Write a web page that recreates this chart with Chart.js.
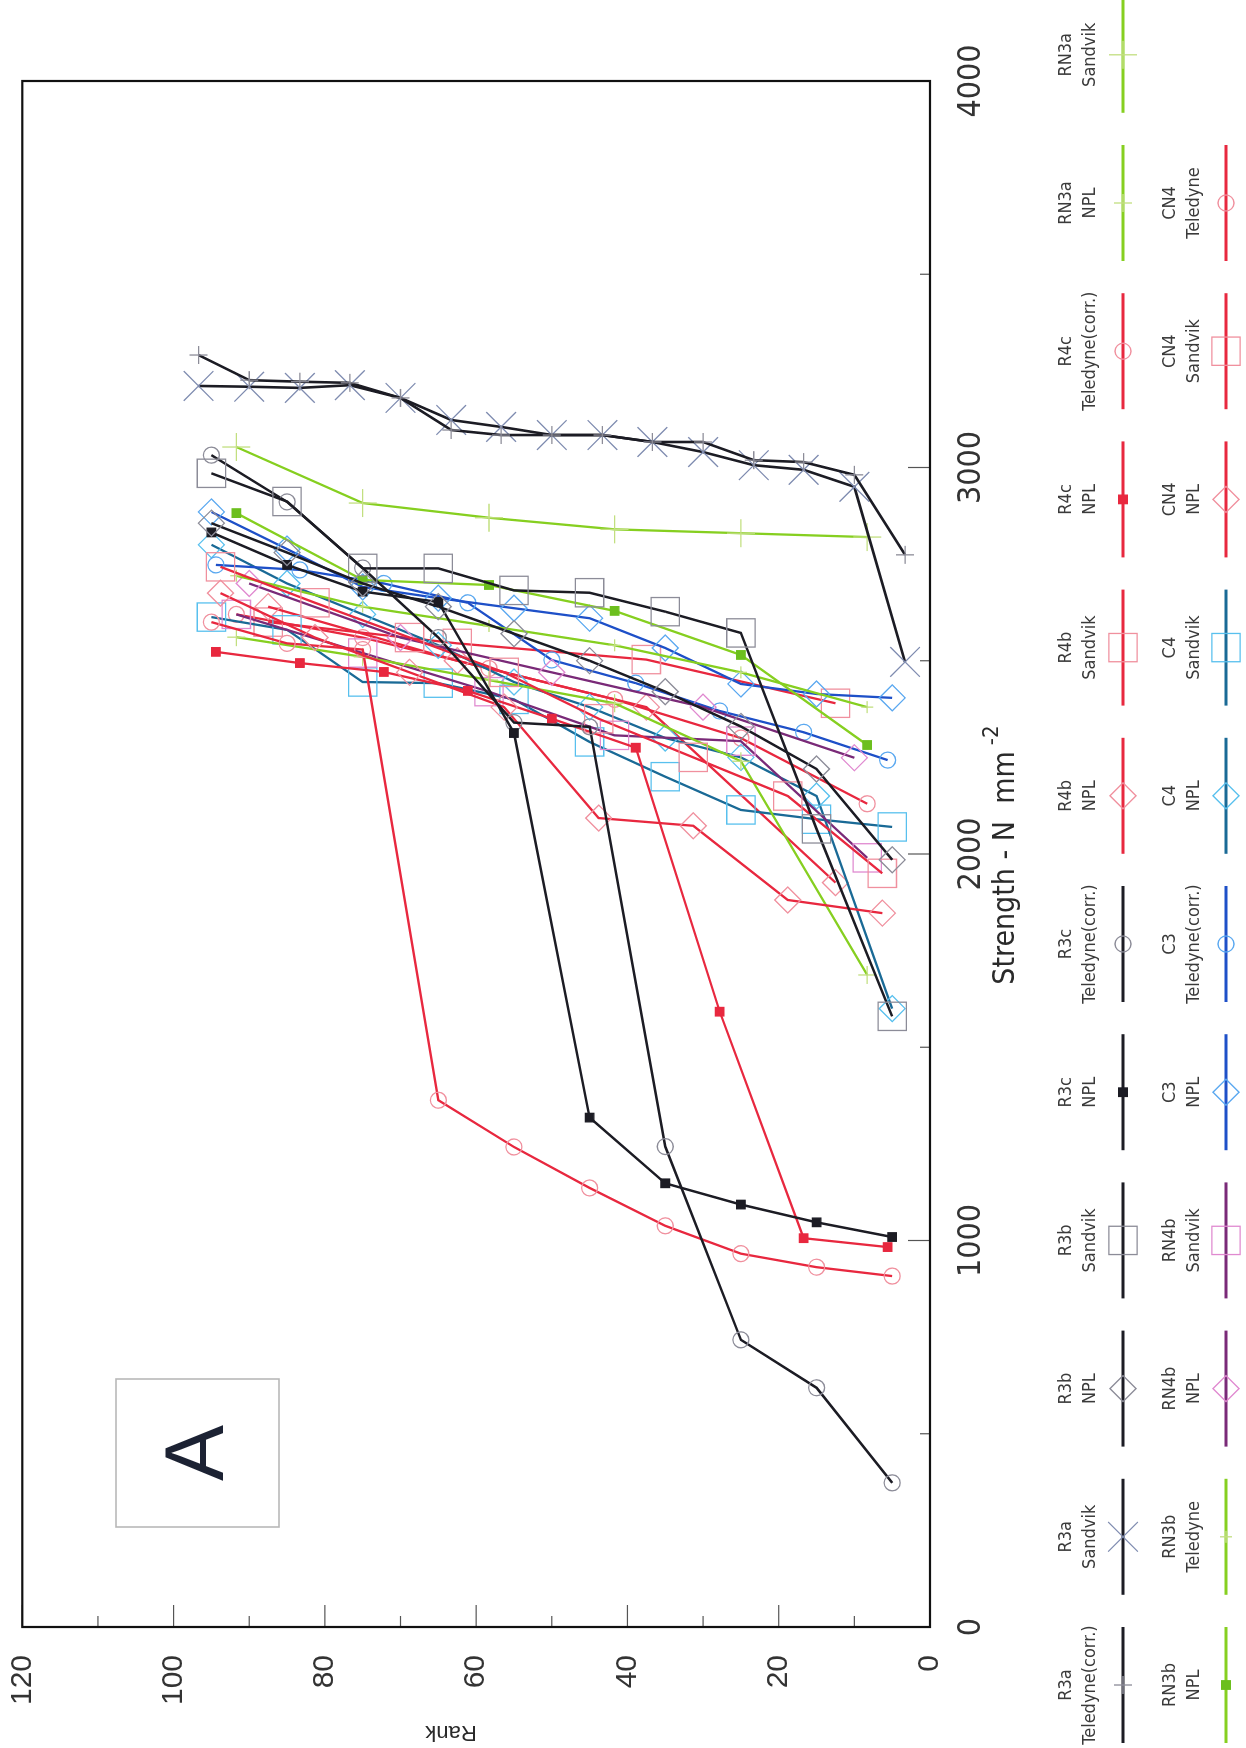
<!DOCTYPE html>
<html>
<head>
<meta charset="utf-8">
<script src="https://cdn.jsdelivr.net/npm/chart.js@4.4.0/dist/chart.umd.min.js"></script>
<style>
html, body { margin: 0; padding: 0; background: #fff; }
#wrap { position: relative; width: 1246px; height: 1748px; overflow: hidden; background: #fff; }
#c { position: absolute; left: 0; top: 0; transform-origin: 0 0; transform: translate(0, 1748px) rotate(-90deg); }
</style>
</head>
<body>
<div id="wrap"><canvas id="c" width="1748" height="1246" style="width:1748px;height:1246px"></canvas></div>
<script>
// median ranks used for the different sample sizes
var rank15 = [96.7, 90, 83.3, 76.7, 70, 63.3, 56.7, 50, 43.3, 36.7, 30, 23.3, 16.7, 10, 3.3];
var rank10 = [95, 85, 75, 65, 55, 45, 35, 25, 15, 5];
var rank9 = [94.4, 83.3, 72.2, 61.1, 50, 38.9, 27.8, 16.7, 5.6];
var rank8 = [93.8, 81.3, 68.8, 56.3, 43.8, 31.3, 18.8, 6.3];
var rank6 = [91.7, 75, 58.3, 41.7, 25, 8.3];
var rank5 = [90, 70, 50, 30, 10];
var rank4 = [87.5, 62.5, 37.5, 12.5];

// strengths, N mm-2
var r3aTeledyne = [3291, 3226, 3222, 3219, 3180, 3097, 3084, 3084, 3084, 3066, 3066, 3019, 3014, 2981, 2774];
var r3aSandvik = [3211, 3209, 3206, 3213, 3180, 3123, 3105, 3084, 3084, 3066, 3040, 3006, 2994, 2950, 2497];
var r3bNPL = [2856, 2780, 2700, 2640, 2570, 2500, 2420, 2330, 2220, 1985];
var r3bSandvik = [2985, 2912, 2739, 2739, 2682, 2676, 2627, 2572, 2065, 1580];
var r3cNPL = [2832, 2748, 2679, 2652, 2313, 1318, 1148, 1093, 1047, 1009];
var r3cTeledyne = [3032, 2911, 2740, 2560, 2340, 2329, 1243, 743, 619, 373];
var r4bNPL = [2675, 2560, 2470, 2380, 2093, 2073, 1881, 1847];
var r4bSandvik = [2743, 2650, 2560, 2470, 2350, 2250, 2150, 1950];
var r4cNPL = [2523, 2494, 2471, 2422, 2350, 2275, 1592, 1006, 983];
var r4cTeledyne = [2600, 2545, 2529, 1363, 1242, 1136, 1038, 966, 931, 908];
var rn3aNPL = [2561, 2510, 2450, 2390, 2240, 1687];
var rn3aSandvik = [3053, 2908, 2870, 2840, 2830, 2820];
var rn3bNPL = [2882, 2709, 2696, 2629, 2515, 2282];
var rn3bTeledyne = [2720, 2640, 2590, 2540, 2470, 2380];
var rn4bNPL = [2700, 2560, 2470, 2380, 2249];
var rn4bSandvik = [2620, 2520, 2420, 2307, 2292, 1990];
var c3NPL = [2885, 2789, 2691, 2662, 2636, 2610, 2533, 2440, 2414, 2404];
var c3Teledyne = [2748, 2735, 2700, 2650, 2502, 2442, 2370, 2315, 2243];
var c4NPL = [2800, 2700, 2620, 2540, 2445, 2380, 2300, 2250, 2150, 1600];
var c4Sandvik = [2613, 2580, 2445, 2442, 2400, 2290, 2200, 2114, 2090, 2070];
var cn4NPL = [2640, 2500, 2380, 1926];
var cn4Sandvik = [2600, 2545, 2503, 2390];
var cn4Teledyne = [2620, 2560, 2480, 2400, 2300, 2130];

var xTicks = [0, 1000, 2000, 3000, 4000];
var yTicks = [0, 20, 40, 60, 80, 100, 120];

var BLACK = '#1c1c24', RED = '#e8283f', GREEN = '#86cf20', PURPLE = '#7a2a78', BLUE = '#1e50c8', TEAL = '#1a6a96';
var GREY_MK = '#8c8c98', RED_MK = '#f0909e', GREEN_MK = '#c2df80', PURPLE_MK = '#e08ad0', BLUE_MK = '#5aa8f0', TEAL_MK = '#58c0ee';

function series(label, ranks, vals, color, style, radius, mk, filled, width) {
  return {
    label: label,
    data: ranks.map(function (r, i) { return { x: vals[i], y: r }; }),
    showLine: true,
    borderColor: color,
    borderWidth: width || 2.3,
    pointStyle: style,
    pointRadius: radius,
    pointBorderColor: mk,
    pointBackgroundColor: filled ? mk : 'rgba(0,0,0,0)',
    pointBorderWidth: 1.3,
    tension: 0
  };
}

var datasets = [
  series('R3a\nTeledyne(corr.)', rank15, r3aTeledyne, BLACK, 'cross', 9, GREY_MK, false, 2.6),
  series('R3a\nSandvik', rank15, r3aSandvik, BLACK, 'crossRot', 21, '#7f8cb0', false, 2.6),
  series('R3b\nNPL', rank10, r3bNPL, BLACK, 'rectRot', 13, GREY_MK, false, 2.5),
  series('R3b\nSandvik', rank10, r3bSandvik, BLACK, 'rect', 20, GREY_MK, false, 2.5),
  series('R3c\nNPL', rank10, r3cNPL, BLACK, 'rect', 6, BLACK, true, 2.5),
  series('R3c\nTeledyne(corr.)', rank10, r3cTeledyne, BLACK, 'circle', 8, GREY_MK, false, 2.5),
  series('R4b\nNPL', rank8, r4bNPL, RED, 'rectRot', 13, RED_MK, false),
  series('R4b\nSandvik', rank8, r4bSandvik, RED, 'rect', 20, RED_MK, false),
  series('R4c\nNPL', rank9, r4cNPL, RED, 'rect', 6, RED, true),
  series('R4c\nTeledyne(corr.)', rank10, r4cTeledyne, RED, 'circle', 8, RED_MK, false),
  series('RN3a\nNPL', rank6, rn3aNPL, GREEN, 'cross', 9, GREEN_MK, false),
  series('RN3a\nSandvik', rank6, rn3aSandvik, GREEN, 'cross', 14, GREEN_MK, false),
  series('RN3b\nNPL', rank6, rn3bNPL, GREEN, 'rect', 6, '#6cbf1e', true),
  series('RN3b\nTeledyne', rank6, rn3bTeledyne, GREEN, 'cross', 6, GREEN_MK, false),
  series('RN4b\nNPL', rank5, rn4bNPL, PURPLE, 'rectRot', 13, PURPLE_MK, false),
  series('RN4b\nSandvik', rank6, rn4bSandvik, PURPLE, 'rect', 20, PURPLE_MK, false),
  series('C3\nNPL', rank10, c3NPL, BLUE, 'rectRot', 13, BLUE_MK, false),
  series('C3\nTeledyne(corr.)', rank9, c3Teledyne, BLUE, 'circle', 8, BLUE_MK, false),
  series('C4\nNPL', rank10, c4NPL, TEAL, 'rectRot', 13, TEAL_MK, false),
  series('C4\nSandvik', rank10, c4Sandvik, TEAL, 'rect', 20, TEAL_MK, false),
  series('CN4\nNPL', rank4, cn4NPL, RED, 'rectRot', 13, RED_MK, false),
  series('CN4\nSandvik', rank4, cn4Sandvik, RED, 'rect', 20, RED_MK, false),
  series('CN4\nTeledyne', rank6, cn4Teledyne, RED, 'circle', 8, RED_MK, false)
];

var NARROW = "'Liberation Sans Narrow', 'Arial Narrow', 'DejaVu Sans Condensed', sans-serif";
var SANS = "'Liberation Sans', Arial, sans-serif";

var paper = {
  id: 'paper',
  afterDraw: function (chart) {
    var ctx = chart.ctx, a = chart.chartArea, sx = chart.scales.x, sy = chart.scales.y;
    ctx.save();
    // inward ticks
    ctx.strokeStyle = '#555';
    ctx.lineWidth = 1.2;
    for (var v = 0; v <= 4000; v += 500) {
      var px = sx.getPixelForValue(v);
      var len = v % 1000 === 0 ? 22 : 10;
      ctx.beginPath(); ctx.moveTo(px, a.bottom); ctx.lineTo(px, a.bottom - len); ctx.stroke();
    }
    for (var r = 0; r <= 120; r += 10) {
      var py = sy.getPixelForValue(r);
      var l2 = r % 20 === 0 ? 22 : 11;
      ctx.beginPath(); ctx.moveTo(a.left, py); ctx.lineTo(a.left + l2, py); ctx.stroke();
    }
    // frame
    ctx.strokeStyle = '#111';
    ctx.lineWidth = 2.2;
    ctx.strokeRect(a.left, a.top, a.right - a.left, a.bottom - a.top);

    // axis titles
    ctx.fillStyle = '#2a2a2a';
    ctx.textAlign = 'center';
    ctx.textBaseline = 'middle';
    ctx.font = '30px ' + NARROW;
    ctx.fillText('Strength - N  mm', 880, 1006);
    var w = ctx.measureText('Strength - N  mm').width;
    ctx.font = '22px ' + NARROW;
    ctx.textAlign = 'left';
    ctx.fillText('-2', 880 + w / 2 + 6, 992);

    ctx.save();
    ctx.translate(16, 451);
    ctx.rotate(-Math.PI / 2);
    ctx.textAlign = 'center';
    ctx.font = '22px ' + SANS;
    ctx.fillText('Rank', 0, 0);
    ctx.restore();

    // panel letter
    ctx.strokeStyle = '#b8b8b8';
    ctx.lineWidth = 1.6;
    ctx.strokeRect(221, 116, 148, 163);
    ctx.fillStyle = '#1c2233';
    ctx.textAlign = 'center';
    ctx.font = '84px ' + SANS;
    ctx.fillText('A', 295, 200);

    // legend: two rows, label above a short line with its marker
    chart.data.datasets.forEach(function (ds, i) {
      var row = i < 12 ? 0 : 1, col = i % 12;
      var cx = 63 + 148.2 * col;
      var ly = row ? 1226 : 1123;
      var ty = row ? 1170 : 1066;
      ctx.strokeStyle = ds.borderColor;
      ctx.lineWidth = 3;
      ctx.beginPath(); ctx.moveTo(cx - 58, ly); ctx.lineTo(cx + 58, ly); ctx.stroke();
      ctx.strokeStyle = ds.pointBorderColor;
      ctx.fillStyle = ds.pointBackgroundColor;
      ctx.lineWidth = 1.3;
      Chart.helpers.drawPoint(ctx, { pointStyle: ds.pointStyle, radius: ds.pointRadius, rotation: 0, borderWidth: 1.3 }, cx, ly);
      ctx.fillStyle = '#3a3a3a';
      ctx.font = '18px ' + NARROW;
      ctx.textAlign = 'center';
      var parts = ds.label.split('\n');
      ctx.fillText(parts[0], cx, ty);
      ctx.fillText(parts[1], cx, ty + 24);
    });
    ctx.restore();
  }
};

new Chart(document.getElementById('c'), {
  type: 'scatter',
  data: { datasets: datasets },
  options: {
    responsive: false,
    animation: false,
    devicePixelRatio: 1,
    layout: { padding: { left: 0, right: 81, top: 0, bottom: 216 } },
    plugins: { legend: { display: false }, tooltip: { enabled: false } },
    scales: {
      x: {
        type: 'linear', min: 0, max: 4000,
        grid: { display: false, drawTicks: false },
        border: { display: false },
        afterFit: function (s) { s.height = 100; },
        afterBuildTicks: function (s) { s.ticks = xTicks.map(function (v) { return { value: v }; }); },
        ticks: { padding: 22, color: '#333', font: { family: NARROW, size: 32 }, maxRotation: 0,
          callback: function (v) { return String(v); } }
      },
      y: {
        type: 'linear', min: 0, max: 120,
        grid: { display: false, drawTicks: false },
        border: { display: false },
        afterFit: function (s) { s.width = 121; s.paddingTop = 20; s.paddingBottom = 0; },
        afterBuildTicks: function (s) { s.ticks = yTicks.map(function (v) { return { value: v }; }); },
        ticks: { padding: 28, color: '#333', font: { family: SANS, size: 30 },
          callback: function (v) { return String(v); } }
      }
    }
  },
  plugins: [paper]
});
</script>
</body>
</html>
